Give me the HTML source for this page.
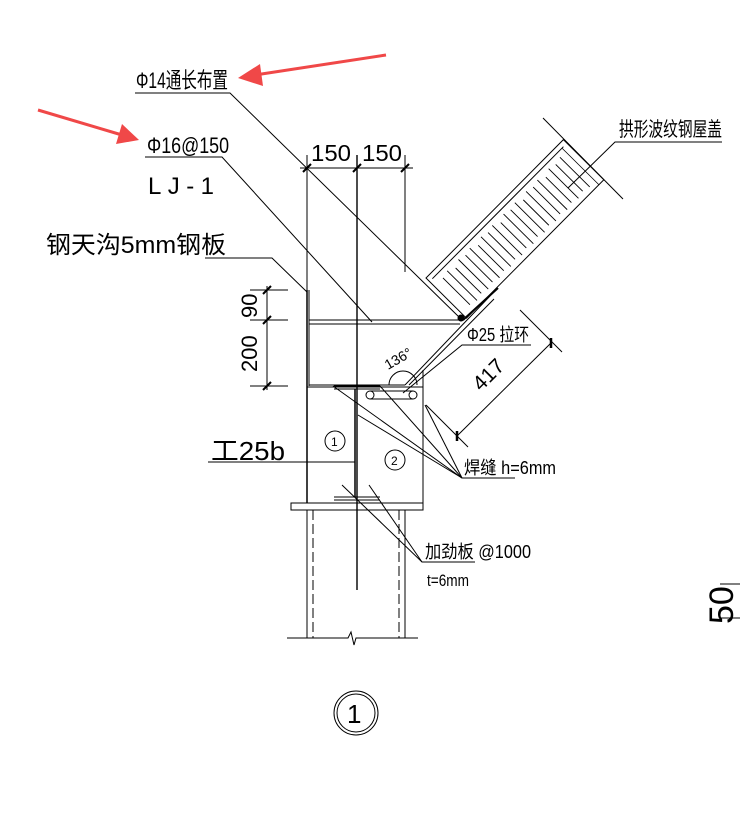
<!DOCTYPE html>
<html><head><meta charset="utf-8"><style>
html,body{margin:0;padding:0;background:#fff}
svg{display:block}
text{font-family:"Liberation Sans","Noto Sans CJK SC",sans-serif;fill:#000}
</style></head><body>
<svg width="748" height="814" viewBox="0 0 748 814" xmlns="http://www.w3.org/2000/svg">
<g stroke="#000" stroke-width="1" fill="none">
<line x1="300" y1="168" x2="413" y2="168"/>
<line x1="307" y1="155" x2="307" y2="290"/>
<line x1="357" y1="155" x2="357" y2="590" stroke-width="1.4"/>
<line x1="405" y1="155" x2="405" y2="272"/>
<line x1="303" y1="172" x2="311" y2="164" stroke-width="2"/>
<line x1="353" y1="172" x2="361" y2="164" stroke-width="2"/>
<line x1="401" y1="172" x2="409" y2="164" stroke-width="2"/>
<line x1="267" y1="286" x2="267" y2="390"/>
<line x1="250" y1="290" x2="288" y2="290"/>
<line x1="250" y1="320" x2="288" y2="320"/>
<line x1="250" y1="386" x2="288" y2="386"/>
<line x1="263" y1="294" x2="271" y2="286" stroke-width="2"/>
<line x1="263" y1="324" x2="271" y2="316" stroke-width="2"/>
<line x1="263" y1="390" x2="271" y2="382" stroke-width="2"/>
<line x1="307" y1="290" x2="307" y2="503" stroke-width="1.5"/>
<line x1="309" y1="290" x2="309" y2="386"/>
<line x1="309" y1="320" x2="463" y2="320"/>
<line x1="309" y1="324" x2="460" y2="324"/>
<line x1="309" y1="385" x2="405" y2="385"/>
<line x1="307" y1="387" x2="423" y2="387"/>
<line x1="405" y1="385" x2="490" y2="296"/>
<line x1="409" y1="385" x2="494" y2="299"/>
<line x1="463" y1="320" x2="498" y2="288" stroke-width="2"/>
<circle cx="461" cy="318" r="3" fill="#000"/>
<path d="M389 385 A14 14 0 0 1 417 385"/>
<circle cx="370" cy="395" r="4"/>
<circle cx="413" cy="395" r="4"/>
<line x1="370" y1="391" x2="413" y2="391"/>
<line x1="370" y1="399" x2="413" y2="399"/>
<line x1="334" y1="386" x2="380" y2="386"/>
<line x1="334" y1="389" x2="380" y2="389"/>
<line x1="334" y1="497" x2="380" y2="497"/>
<line x1="334" y1="500" x2="380" y2="500"/>
<line x1="355" y1="389" x2="355" y2="497" stroke-width="1.5"/>
<line x1="423" y1="370" x2="423" y2="503"/>
<rect x="291" y="503" width="132" height="7"/>
<line x1="307" y1="510" x2="307" y2="638"/>
<line x1="405" y1="510" x2="405" y2="638"/>
<line x1="313" y1="510" x2="313" y2="638" stroke-dasharray="10,4"/>
<line x1="399" y1="510" x2="399" y2="638" stroke-dasharray="10,4"/>
<polyline points="287,638 348,638 351,632 354,645 356,638 418,638"/>
<circle cx="335" cy="441" r="10"/>
<circle cx="395" cy="460" r="10"/>
<circle cx="356" cy="713" r="22"/>
<circle cx="356" cy="713" r="19"/>
<!-- roof in local coords -->
<g transform="translate(426,278) rotate(-45.2)">
<rect x="0" y="0" width="195" height="57"/>
<line x1="4" y1="5" x2="190" y2="5"/>
<line x1="188" y1="5" x2="188" y2="57" stroke-width="0.8"/>
<g stroke-width="0.9">
<line x1="12" y1="12" x2="12" y2="50"/><line x1="20" y1="10" x2="20" y2="52"/>
<line x1="28" y1="14" x2="28" y2="50"/><line x1="36" y1="10" x2="36" y2="52"/>
<line x1="44" y1="12" x2="44" y2="50"/><line x1="52" y1="10" x2="52" y2="52"/>
<line x1="60" y1="14" x2="60" y2="50"/><line x1="68" y1="10" x2="68" y2="52"/>
<line x1="76" y1="12" x2="76" y2="50"/><line x1="84" y1="10" x2="84" y2="52"/>
<line x1="92" y1="14" x2="92" y2="50"/><line x1="100" y1="10" x2="100" y2="52"/>
<line x1="108" y1="12" x2="108" y2="50"/><line x1="116" y1="10" x2="116" y2="52"/>
<line x1="124" y1="14" x2="124" y2="50"/><line x1="132" y1="10" x2="132" y2="52"/>
<line x1="140" y1="12" x2="140" y2="50"/><line x1="148" y1="10" x2="148" y2="52"/>
<line x1="156" y1="14" x2="156" y2="50"/><line x1="164" y1="10" x2="164" y2="52"/>
<line x1="172" y1="12" x2="172" y2="50"/><line x1="180" y1="10" x2="180" y2="52"/>
</g>
</g>
<line x1="543" y1="118" x2="623" y2="199"/>
<polyline points="135,93 230,93 460,318"/>
<polyline points="145,157 222,157 372,322"/>
<polyline points="205,258 272,258 307,292"/>
<polyline points="722,142 615,142 568,188"/>
<polyline points="531,345 462,345 403,393"/>
<polyline points="515,478 462,478 333,386"/>
<line x1="462" y1="478" x2="358" y2="415"/>
<line x1="462" y1="478" x2="380" y2="386"/>
<line x1="462" y1="478" x2="425" y2="405"/>
<polyline points="475,562 422,562 342,485"/>
<line x1="422" y1="562" x2="369" y2="485"/>
<line x1="208" y1="462" x2="355" y2="462"/>
<line x1="457" y1="436" x2="551" y2="343"/>
<line x1="426" y1="405" x2="468" y2="447"/>
<line x1="520" y1="310" x2="562" y2="352"/>
<line x1="457" y1="431" x2="457" y2="441" stroke-width="2.5"/>
<line x1="551" y1="338" x2="551" y2="348" stroke-width="2.5"/>
<line x1="720" y1="584" x2="740" y2="584"/>
<line x1="720" y1="618" x2="740" y2="618"/>
</g>
<g stroke="#f04848" stroke-width="3" fill="#f04848">
<line x1="386" y1="55" x2="255" y2="75"/>
<polygon points="238,78 260,64 263,86" stroke="none"/>
<line x1="38" y1="110" x2="122" y2="135"/>
<polygon points="139,140 116,144 122,124" stroke="none"/>
</g>
<g>
<text x="136" y="88" font-size="22" textLength="92" lengthAdjust="spacingAndGlyphs">Φ14通长布置</text>
<text x="147" y="153" font-size="22" textLength="82" lengthAdjust="spacingAndGlyphs">Φ16@150</text>
<text x="148" y="194" font-size="24" font-weight="normal" textLength="72" lengthAdjust="spacing" letter-spacing="6">LJ-1</text>
<text x="46" y="253" font-size="24" textLength="180" lengthAdjust="spacingAndGlyphs">钢天沟5mm钢板</text>
<text x="311" y="161" font-size="23" textLength="40" lengthAdjust="spacingAndGlyphs">150</text>
<text x="362" y="161" font-size="23" textLength="40" lengthAdjust="spacingAndGlyphs">150</text>
<text x="619" y="136" font-size="20" textLength="103" lengthAdjust="spacingAndGlyphs">拱形波纹钢屋盖</text>
<text x="211" y="460" font-size="26" textLength="74" lengthAdjust="spacingAndGlyphs">工25b</text>
<text x="467" y="341" font-size="18" textLength="62" lengthAdjust="spacingAndGlyphs">Φ25 拉环</text>
<text x="464" y="474" font-size="18" textLength="92" lengthAdjust="spacingAndGlyphs">焊缝  h=6mm</text>
<text x="425" y="558" font-size="18" textLength="106" lengthAdjust="spacingAndGlyphs">加劲板  @1000</text>
<text x="427" y="586" font-size="17" textLength="42" lengthAdjust="spacingAndGlyphs">t=6mm</text>
<text x="331" y="446" font-size="12">1</text>
<text x="391" y="465" font-size="12">2</text>
<text x="347" y="723" font-size="26" font-family="Liberation Serif">1</text>
<text transform="translate(257,318) rotate(-90)" font-size="22">90</text>
<text transform="translate(257,372) rotate(-90)" font-size="22">200</text>
<text transform="translate(481,392) rotate(-45)" font-size="21">417</text>
<text transform="translate(388,370) rotate(-30)" font-size="14">136°</text>
<text transform="translate(733,624) rotate(-90)" font-size="34">50</text>
</g>
</svg>
</body></html>
